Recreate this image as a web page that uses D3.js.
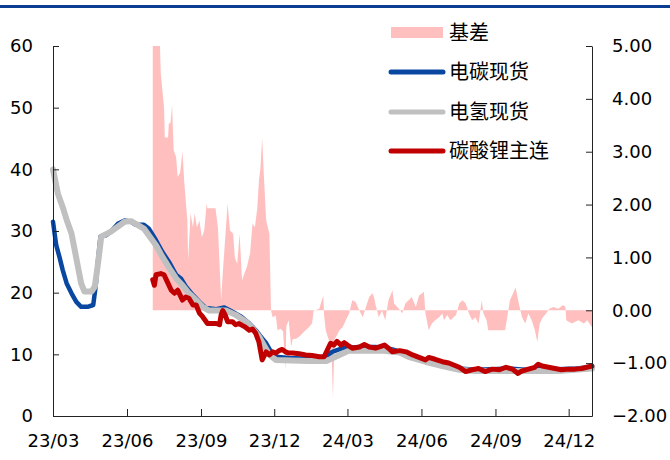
<!DOCTYPE html>
<html>
<head>
<meta charset="utf-8">
<script src="https://cdn.jsdelivr.net/npm/d3@7"></script>
<style>
  body { margin: 0; background: #fff; }
  svg { display: block; }
</style>
</head>
<body>
<script>
// 数据
let seriesNames = ['基差', '电碳现货', '电氢现货', '碳酸锂主连']
let leftTicks = [0, 10, 20, 30, 40, 50, 60]
let rightTicks = [-2, -1, 0, 1, 2, 3, 4, 5]
let xTickLabels = ['23/03', '23/06', '23/09', '23/12', '24/03', '24/06', '24/09', '24/12']

// 电碳现货
let carbonSpot = [
  ['2023-03-01', 31.5], ['2023-03-05', 27.7], ['2023-03-09', 25.8], ['2023-03-13', 23.7],
  ['2023-03-18', 21.5], ['2023-03-24', 19.9], ['2023-03-30', 18.5], ['2023-04-05', 17.7],
  ['2023-04-13', 17.7], ['2023-04-20', 18.0], ['2023-04-23', 21.0], ['2023-04-26', 25.3],
  ['2023-04-29', 29.1], ['2023-05-06', 29.3], ['2023-05-12', 29.9], ['2023-05-21', 31.2],
  ['2023-05-29', 31.7], ['2023-06-06', 31.5], ['2023-06-12', 31.0], ['2023-06-22', 31.0],
  ['2023-06-28', 30.4], ['2023-07-07', 28.5], ['2023-07-15', 26.6], ['2023-07-24', 24.8],
  ['2023-08-01', 22.9], ['2023-08-07', 22.3], ['2023-08-13', 21.0], ['2023-08-22', 19.6],
  ['2023-08-30', 18.5], ['2023-09-07', 17.5], ['2023-09-20', 17.3], ['2023-09-30', 17.6],
  ['2023-10-10', 16.9], ['2023-10-21', 16.1], ['2023-10-31', 15.0], ['2023-11-08', 13.9],
  ['2023-11-16', 12.6], ['2023-11-21', 11.8], ['2023-11-27', 10.4], ['2023-12-03', 9.6],
  ['2023-12-19', 9.4], ['2024-01-13', 9.3], ['2024-02-03', 9.6], ['2024-02-11', 10.4],
  ['2024-02-24', 11.0], ['2024-03-16', 11.2], ['2024-04-05', 11.2], ['2024-04-26', 10.8],
  ['2024-05-16', 9.9], ['2024-06-06', 9.1], ['2024-06-27', 8.6], ['2024-07-18', 7.7],
  ['2024-08-07', 7.5], ['2024-08-28', 7.6], ['2024-09-17', 7.7], ['2024-10-08', 7.5],
  ['2024-10-29', 7.7], ['2024-11-18', 7.6], ['2024-12-09', 7.7], ['2024-12-30', 7.9]
]

// 电氢现货
let hydrogenSpot = [
  ['2023-03-01', 40.0], ['2023-03-07', 36.1], ['2023-03-13', 33.9], ['2023-03-18', 31.8],
  ['2023-03-24', 29.6], ['2023-03-28', 26.9], ['2023-04-01', 24.2], ['2023-04-05', 21.5],
  ['2023-04-09', 20.2], ['2023-04-18', 20.2], ['2023-04-22', 21.0], ['2023-04-26', 24.8],
  ['2023-04-30', 29.1], ['2023-05-12', 29.9], ['2023-05-29', 31.5], ['2023-06-06', 31.6],
  ['2023-06-14', 31.0], ['2023-06-22', 30.4], ['2023-06-28', 29.3], ['2023-07-07', 27.7],
  ['2023-07-15', 25.8], ['2023-07-24', 23.9], ['2023-08-01', 22.3], ['2023-08-09', 21.2],
  ['2023-08-17', 19.9], ['2023-08-26', 18.8], ['2023-09-03', 17.7], ['2023-09-11', 17.1],
  ['2023-09-24', 17.1], ['2023-10-02', 17.1], ['2023-10-14', 16.4], ['2023-10-27', 15.3],
  ['2023-11-04', 14.2], ['2023-11-12', 12.9], ['2023-11-18', 11.5], ['2023-11-25', 9.9],
  ['2023-12-03', 9.1], ['2024-01-13', 8.9], ['2024-02-03', 8.9], ['2024-02-07', 9.1],
  ['2024-02-20', 9.9], ['2024-03-03', 10.6], ['2024-04-13', 10.6], ['2024-05-05', 10.3],
  ['2024-05-16', 9.6], ['2024-06-06', 8.8], ['2024-06-27', 8.1], ['2024-07-18', 7.5],
  ['2024-08-07', 7.3], ['2024-09-06', 7.3], ['2024-10-12', 7.3], ['2024-11-18', 7.3],
  ['2024-12-30', 7.7]
]

// 碳酸锂主连
let lithiumMain = [
  ['2023-07-03', 22.1], ['2023-07-05', 21.2], ['2023-07-07', 22.9], ['2023-07-13', 23.1],
  ['2023-07-17', 22.9], ['2023-07-22', 21.5], ['2023-07-26', 20.4], ['2023-07-30', 19.9],
  ['2023-08-03', 20.4], ['2023-08-09', 18.8], ['2023-08-13', 19.3], ['2023-08-17', 19.1],
  ['2023-08-22', 18.0], ['2023-08-26', 18.0], ['2023-08-30', 16.7], ['2023-09-03', 16.1],
  ['2023-09-09', 15.0], ['2023-09-15', 15.0], ['2023-09-20', 15.0], ['2023-09-24', 14.8],
  ['2023-09-26', 16.4], ['2023-09-28', 17.1], ['2023-10-01', 16.4], ['2023-10-04', 15.3],
  ['2023-10-10', 15.3], ['2023-10-14', 14.8], ['2023-10-18', 15.0], ['2023-10-25', 14.5],
  ['2023-10-31', 13.9], ['2023-11-04', 14.1], ['2023-11-08', 13.4], ['2023-11-12', 12.0],
  ['2023-11-16', 9.1], ['2023-11-21', 10.4], ['2023-11-25', 9.9], ['2023-11-29', 10.4],
  ['2023-12-03', 10.2], ['2023-12-07', 10.6], ['2023-12-11', 10.8], ['2023-12-15', 10.4],
  ['2023-12-19', 10.2], ['2023-12-24', 10.2], ['2024-01-01', 10.1], ['2024-01-09', 9.9],
  ['2024-01-17', 9.8], ['2024-01-26', 9.6], ['2024-02-01', 9.6], ['2024-02-05', 10.7],
  ['2024-02-09', 11.8], ['2024-02-13', 11.5], ['2024-02-17', 12.1], ['2024-02-22', 11.5],
  ['2024-02-26', 11.9], ['2024-03-01', 11.5], ['2024-03-07', 11.0], ['2024-03-16', 11.2],
  ['2024-03-22', 11.6], ['2024-03-28', 11.2], ['2024-04-05', 11.0], ['2024-04-16', 11.5],
  ['2024-04-21', 11.0], ['2024-04-26', 10.4], ['2024-05-05', 10.6], ['2024-05-13', 10.4],
  ['2024-05-21', 9.9], ['2024-05-29', 9.5], ['2024-06-06', 9.1], ['2024-06-10', 9.5],
  ['2024-06-18', 9.2], ['2024-06-27', 8.8], ['2024-07-05', 8.6], ['2024-07-18', 7.9],
  ['2024-07-26', 7.2], ['2024-08-03', 7.5], ['2024-08-11', 7.7], ['2024-08-19', 7.2],
  ['2024-08-28', 7.6], ['2024-09-06', 7.5], ['2024-09-14', 7.9], ['2024-09-22', 7.6],
  ['2024-09-29', 6.9], ['2024-10-04', 7.3], ['2024-10-12', 7.6], ['2024-10-20', 7.9],
  ['2024-10-24', 8.4], ['2024-10-29', 8.1], ['2024-11-06', 7.9], ['2024-11-14', 7.7],
  ['2024-11-22', 7.5], ['2024-12-01', 7.6], ['2024-12-09', 7.6], ['2024-12-17', 7.7],
  ['2024-12-30', 8.1]
]

// 基差（右轴）
let basis = [
  ['2023-07-03', 5.0], ['2023-07-12', 5.0], ['2023-07-13', 4.48], ['2023-07-17', 3.84],
  ['2023-07-18', 3.27], ['2023-07-22', 3.27], ['2023-07-23', 3.54], ['2023-07-25', 3.54],
  ['2023-07-27', 3.88], ['2023-07-29', 3.03], ['2023-08-01', 2.9], ['2023-08-03', 2.52],
  ['2023-08-06', 2.6], ['2023-08-09', 3.0], ['2023-08-11', 2.46], ['2023-08-15', 1.7],
  ['2023-08-16', 0.95], ['2023-08-19', 1.83], ['2023-08-22', 1.57], ['2023-08-24', 1.83],
  ['2023-08-27', 1.57], ['2023-08-30', 1.7], ['2023-09-02', 1.38], ['2023-09-05', 1.51],
  ['2023-09-08', 2.02], ['2023-09-09', 1.93], ['2023-09-19', 1.93], ['2023-09-22', 1.57],
  ['2023-09-26', 0.19], ['2023-09-28', 0.7], ['2023-10-02', 1.57], ['2023-10-04', 2.02],
  ['2023-10-07', 1.51], ['2023-10-11', 1.45], ['2023-10-13', 1.0], ['2023-10-16', 0.88],
  ['2023-10-19', 1.45], ['2023-10-22', 0.57], ['2023-10-25', 0.7], ['2023-10-28', 0.82],
  ['2023-11-01', 1.08], ['2023-11-04', 1.64], ['2023-11-07', 1.57], ['2023-11-10', 1.95],
  ['2023-11-12', 2.46], ['2023-11-14', 2.71], ['2023-11-16', 3.27], ['2023-11-18', 2.59],
  ['2023-11-21', 1.7], ['2023-11-23', 1.57], ['2023-11-25', 1.45], ['2023-11-27', 0.0],
  ['2023-11-29', -0.13], ['2023-12-03', -0.1], ['2023-12-05', -0.38], ['2023-12-09', -0.35],
  ['2023-12-12', -0.4], ['2023-12-15', -1.13], ['2023-12-16', -0.3], ['2023-12-19', -0.19],
  ['2023-12-22', -0.69], ['2023-12-24', -0.55], ['2023-12-28', -0.54], ['2024-01-01', -0.5],
  ['2024-01-05', -0.44], ['2024-01-09', -0.38], ['2024-01-13', -0.32], ['2024-01-17', -0.25],
  ['2024-01-19', -0.01], ['2024-01-26', 0.03], ['2024-01-31', 0.28], ['2024-02-01', -0.1],
  ['2024-02-03', -0.38], ['2024-02-07', -0.57], ['2024-02-10', -0.63], ['2024-02-12', -1.66],
  ['2024-02-14', -0.55], ['2024-02-16', -0.5], ['2024-02-20', -0.38], ['2024-02-24', -0.32],
  ['2024-02-28', -0.19], ['2024-03-03', -0.06], ['2024-03-07', 0.19], ['2024-03-11', 0.16],
  ['2024-03-16', -0.01], ['2024-03-20', -0.13], ['2024-03-24', 0.06], ['2024-03-28', 0.25],
  ['2024-04-01', 0.32], ['2024-04-03', 0.25], ['2024-04-05', 0.1], ['2024-04-09', -0.13],
  ['2024-04-13', -0.01], ['2024-04-17', -0.19], ['2024-04-21', 0.19], ['2024-04-26', 0.38],
  ['2024-04-28', 0.13], ['2024-05-02', 0.06], ['2024-05-06', -0.01], ['2024-05-08', -0.06],
  ['2024-05-12', 0.13], ['2024-05-16', 0.19], ['2024-05-20', 0.25], ['2024-05-25', 0.06],
  ['2024-05-29', 0.28], ['2024-06-02', 0.32], ['2024-06-04', 0.35], ['2024-06-06', -0.06],
  ['2024-06-10', -0.38], ['2024-06-14', -0.25], ['2024-06-18', -0.19], ['2024-06-23', -0.13],
  ['2024-06-27', -0.06], ['2024-06-29', -0.19], ['2024-07-03', -0.09], ['2024-07-07', -0.19],
  ['2024-07-14', -0.09], ['2024-07-18', 0.13], ['2024-07-22', 0.19], ['2024-07-26', 0.13],
  ['2024-07-30', -0.06], ['2024-08-03', -0.19], ['2024-08-07', -0.13], ['2024-08-11', -0.25],
  ['2024-08-15', 0.19], ['2024-08-17', -0.06], ['2024-08-21', -0.19], ['2024-08-23', -0.38],
  ['2024-09-03', -0.38], ['2024-09-13', -0.38], ['2024-09-15', -0.19], ['2024-09-19', 0.19],
  ['2024-09-23', 0.32], ['2024-09-26', 0.43], ['2024-09-30', 0.13], ['2024-10-04', -0.13],
  ['2024-10-08', -0.25], ['2024-10-12', -0.06], ['2024-10-16', -0.19], ['2024-10-20', -0.38],
  ['2024-10-23', -0.6], ['2024-10-26', -0.25], ['2024-10-30', -0.13], ['2024-11-03', -0.06],
  ['2024-11-07', 0.03], ['2024-11-12', 0.06], ['2024-11-18', 0.03], ['2024-11-24', 0.1],
  ['2024-11-27', 0.06], ['2024-11-28', -0.19], ['2024-12-05', -0.25], ['2024-12-13', -0.19],
  ['2024-12-20', -0.25], ['2024-12-24', -0.19], ['2024-12-30', -0.32]
]

let width = 670
let height = 460
let margin = { top: 46, right: 78, bottom: 44, left: 53 }
let parseDay = d3.timeParse('%Y-%m-%d')
let parseTick = d3.timeParse('%y/%m')

let svg = d3.select('body').append('svg')
  .attr('width', width)
  .attr('height', height)
  .style('font-family', '"DejaVu Sans", Verdana, sans-serif')

// 顶部深蓝色横线
svg.append('rect')
  .attr('x', 0).attr('y', 5)
  .attr('width', width).attr('height', 3)
  .attr('fill', '#0b3d91')

let xScale = d3.scaleTime()
  .domain([parseDay('2023-03-01'), parseDay('2024-12-30')])
  .range([margin.left, width - margin.right])
let yLeft = d3.scaleLinear()
  .domain([0, 60])
  .range([height - margin.bottom, margin.top])
let yRight = d3.scaleLinear()
  .domain([-2, 5])
  .range([height - margin.bottom, margin.top])

// 基差面积
let basisArea = d3.area()
  .x(d => xScale(parseDay(d[0])))
  .y0(yRight(0))
  .y1(d => yRight(d[1]))
svg.append('path')
  .datum(basis)
  .attr('d', basisArea)
  .attr('fill', '#ffbfbf')

let lineLeft = d3.line()
  .x(d => xScale(parseDay(d[0])))
  .y(d => yLeft(d[1]))

let lineStyles = [
  { data: carbonSpot, color: '#0a47a1', w: 4.5 },
  { data: hydrogenSpot, color: '#c0c0c0', w: 6 },
  { data: lithiumMain, color: '#c00000', w: 5 }
]
lineStyles.forEach(s => {
  svg.append('path')
    .datum(s.data)
    .attr('d', lineLeft)
    .attr('fill', 'none')
    .attr('stroke', s.color)
    .attr('stroke-width', s.w)
    .attr('stroke-linejoin', 'round')
    .attr('stroke-linecap', 'round')
})

// 坐标轴
let styleAxis = g => {
  g.selectAll('path, line').attr('stroke', '#222').attr('stroke-width', 1)
  g.selectAll('text').attr('font-size', '18px').attr('fill', '#000')
    .attr('font-family', '"DejaVu Sans", Verdana, sans-serif')
}

svg.append('g')
  .attr('transform', 'translate(' + margin.left + ',0)')
  .call(d3.axisLeft(yLeft).tickValues(leftTicks).tickFormat(d3.format('d'))
    .tickSizeInner(-6).tickSizeOuter(0).tickPadding(20))
  .call(styleAxis)

svg.append('g')
  .attr('transform', 'translate(' + (width - margin.right) + ',0)')
  .call(d3.axisRight(yRight).tickValues(rightTicks).tickFormat(d3.format('.2f'))
    .tickSizeInner(-6).tickSizeOuter(0).tickPadding(20))
  .call(styleAxis)

svg.append('g')
  .attr('transform', 'translate(0,' + (height - margin.bottom) + ')')
  .call(d3.axisBottom(xScale).tickValues(xTickLabels.map(parseTick))
    .tickFormat(d3.timeFormat('%y/%m'))
    .tickSizeInner(-7).tickSizeOuter(0).tickPadding(18))
  .call(styleAxis)

// 图例
let legend = svg.append('g').attr('font-family', '"Noto Sans CJK SC", sans-serif')
let legendY = [33, 72, 112, 151]
legend.append('rect')
  .attr('x', 391).attr('y', legendY[0] - 6)
  .attr('width', 52).attr('height', 11)
  .attr('fill', '#ffbfbf')
lineStyles.forEach((s, i) => {
  legend.append('line')
    .attr('x1', 391).attr('x2', 443)
    .attr('y1', legendY[i + 1]).attr('y2', legendY[i + 1])
    .attr('stroke', s.color).attr('stroke-width', 5)
    .attr('stroke-linecap', 'round')
})
seriesNames.forEach((name, i) => {
  legend.append('text')
    .attr('x', 449).attr('y', legendY[i])
    .attr('dy', '0.35em')
    .attr('font-size', '20px')
    .attr('fill', '#000')
    .text(name)
})
</script>
</body>
</html>
